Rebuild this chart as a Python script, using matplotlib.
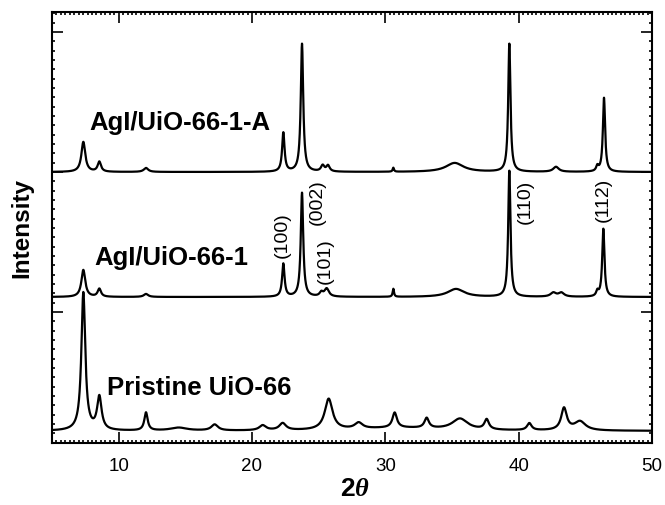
import numpy as np
import matplotlib
matplotlib.use("Agg")
import matplotlib.pyplot as plt
from matplotlib.ticker import MultipleLocator, FixedLocator, NullFormatter

plt.rcParams["font.family"] = ["Liberation Sans", "DejaVu Sans"]
plt.rcParams["mathtext.fontset"] = "custom"
plt.rcParams["mathtext.rm"] = "Liberation Sans:bold"
plt.rcParams["mathtext.it"] = "Liberation Serif:italic:bold"
plt.rcParams["mathtext.bf"] = "Liberation Sans:bold"

# peak positions (2theta), heights and widths
# intensity is in arbitrary units (stacked patterns)
pristine_base = 12
pristine_pos = [7.35, 8.55, 12.05, 14.5, 17.2, 20.8, 22.3, 25.75, 28.0, 30.7, 31.0, 33.1, 35.6, 37.6, 40.8, 43.4, 44.6]
pristine_height = [138, 33, 18, 3, 6, 5, 7, 31, 6, 15, 3, 10, 11, 10, 7, 22, 9]
pristine_fwhm = [0.35, 0.4, 0.3, 1.5, 0.6, 0.6, 0.6, 0.7, 0.7, 0.4, 8.0, 0.4, 1.4, 0.4, 0.4, 0.5, 1.0]

agi_base = 146
agi_pos = [7.35, 8.55, 12.05, 22.35, 23.75, 25.2, 25.6, 30.6, 35.3, 39.3, 42.6, 43.2, 45.9, 46.35]
agi_height = [27, 8, 3, 33, 104, 4, 8, 8, 8, 126, 4, 4, 5, 68]
agi_fwhm = [0.35, 0.3, 0.4, 0.22, 0.22, 0.3, 0.4, 0.12, 1.5, 0.2, 0.5, 0.5, 0.2, 0.2]

agi_a_base = 271
agi_a_pos = [7.35, 8.55, 12.05, 22.35, 23.75, 25.3, 25.7, 30.6, 35.2, 39.3, 42.8, 45.9, 46.4]
agi_a_height = [30, 10, 4, 39, 128, 6, 6, 4, 9, 128, 5, 5, 74]
agi_a_fwhm = [0.35, 0.3, 0.4, 0.22, 0.22, 0.3, 0.3, 0.12, 1.6, 0.2, 0.5, 0.2, 0.2]

sample_labels = ["AgI/UiO-66-1-A", "AgI/UiO-66-1", "Pristine UiO-66"]
sample_label_x = [7.8, 8.2, 9.1]
sample_label_y = [321, 186, 56]

hkl_labels = ["(100)", "(002)", "(101)", "(110)", "(112)"]
hkl_x = [22.25, 24.9, 25.5, 40.5, 46.35]
hkl_y = [209, 242, 183, 242, 244]

two_theta = np.linspace(5, 50, 4501)


def profile(base, pos, height, fwhm):
    y = np.full_like(two_theta, float(base))
    for p, h, w in zip(pos, height, fwhm):
        y += h / (1 + ((two_theta - p) / (w / 2)) ** 2)
    return y


fig = plt.figure(figsize=(6.65, 5.06), dpi=100)
ax = fig.add_axes([52 / 665, 62 / 506, 600 / 665, 431 / 506])

for base, pos, height, fwhm in [
    (pristine_base, pristine_pos, pristine_height, pristine_fwhm),
    (agi_base, agi_pos, agi_height, agi_fwhm),
    (agi_a_base, agi_a_pos, agi_a_height, agi_a_fwhm),
]:
    ax.plot(two_theta, profile(base, pos, height, fwhm), color="black", lw=1.6)

for text, x, y in zip(sample_labels, sample_label_x, sample_label_y):
    ax.text(x, y, text, fontsize=18.5, fontweight="bold", ha="left", va="center")

for text, x, y in zip(hkl_labels, hkl_x, hkl_y):
    ax.text(x, y, text, fontsize=14, rotation=90, ha="center", va="center")

ax.set_xlim(5, 50)
ax.set_ylim(0, 431)
ax.xaxis.set_major_locator(FixedLocator([10, 20, 30, 40, 50]))
ax.xaxis.set_minor_locator(MultipleLocator(10 / 30))
ax.yaxis.set_major_locator(FixedLocator([131, 271, 411]))
ax.yaxis.set_minor_locator(FixedLocator(np.arange(131 - 14 * 140 / 15, 431, 140 / 15)))
ax.yaxis.set_major_formatter(NullFormatter())

ax.tick_params(which="both", direction="in", top=True, right=True, width=1.2)
ax.tick_params(which="major", length=8, labelsize=13.5, pad=10)
ax.tick_params(which="minor", length=2.5)
for s in ax.spines.values():
    s.set_linewidth(1.5)

ax.set_xlabel(r"$\mathrm{2}\theta$", fontsize=19, va="center")
ax.xaxis.set_label_coords(0.505, -0.104)
ax.set_ylabel("Intensity", fontsize=17.5, fontweight="bold", va="center")
ax.yaxis.set_label_coords(-0.05, 0.5)

fig.savefig("out.png", dpi=100)
